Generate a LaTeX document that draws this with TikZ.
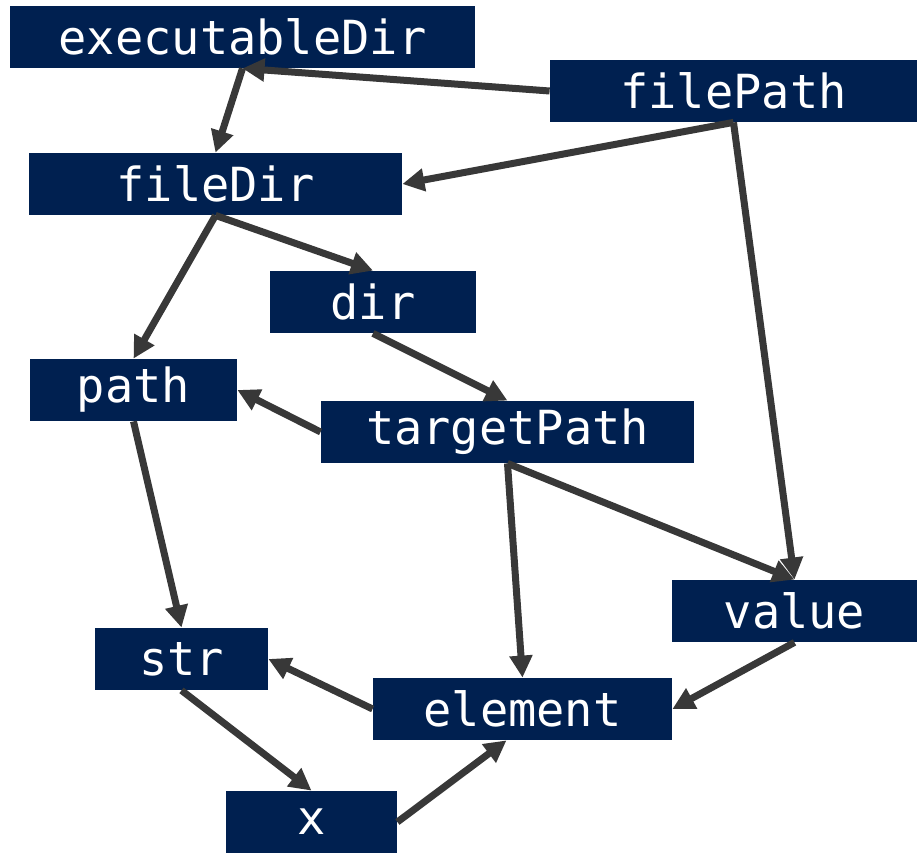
\documentclass[tikz,border=0pt]{standalone}
\usepackage{fontspec}
\setmonofont{DejaVu Sans Mono}
\usetikzlibrary{arrows.meta}

\definecolor{boxnavy}{RGB}{0,32,80}
\definecolor{linegray}{RGB}{56,56,56}

\begin{document}
\begin{tikzpicture}[x=0.5pt,y=-0.5pt,
  var/.style={rectangle, fill=boxnavy, text=white, inner sep=0pt,
    minimum height=31pt, font=\ttfamily\fontsize{23.5}{28}\selectfont},
  dep/.style={draw=linegray, line width=3.5pt,
    -{Triangle[length=11pt,width=11pt]}}]
\useasboundingbox (0,0) rectangle (917,854);

% Variable nodes
\node[var, minimum width=232.5pt] (executableDir) at (242.5,37) {executableDir};
\node[var, minimum width=183.5pt] (filePath) at (733.5,91) {filePath};
\node[var, minimum width=186.5pt] (fileDir) at (215.5,184) {fileDir};
\node[var, minimum width=103pt] (dir) at (373,302) {dir};
\node[var, minimum width=103.5pt] (path) at (133.5,390) {path};
\node[var, minimum width=186.5pt] (targetPath) at (507.5,432) {targetPath};
\node[var, minimum width=122.5pt] (value) at (794.5,611) {value};
\node[var, minimum width=86.5pt] (str) at (181.5,659) {str};
\node[var, minimum width=149.5pt] (element) at (522.5,709) {element};
\node[var, minimum width=85.5pt] (x) at (311.5,822) {x};

% Dependencies
\draw[dep] (filePath.west) -- (executableDir.south);
\draw[dep] (executableDir.south) -- (fileDir.north);
\draw[dep] (filePath.south) -- (fileDir.east);
\draw[dep] (filePath.south) -- (value.north);
\draw[dep] (fileDir.south) -- (path.north);
\draw[dep] (fileDir.south) -- (dir.north);
\draw[dep] (dir.south) -- (targetPath.north);
\draw[dep] (targetPath.west) -- (path.east);
\draw[dep] (targetPath.south) -- (element.north);
\draw[dep] (targetPath.south) -- (value.north);
\draw[dep] (path.south) -- (str.north);
\draw[dep] (element.west) -- (str.east);
\draw[dep] (str.south) -- (x.north);
\draw[dep] (x.east) -- ([xshift=-8pt]element.south);
\draw[dep] (value.south) -- (element.east);

\end{tikzpicture}
\end{document}
